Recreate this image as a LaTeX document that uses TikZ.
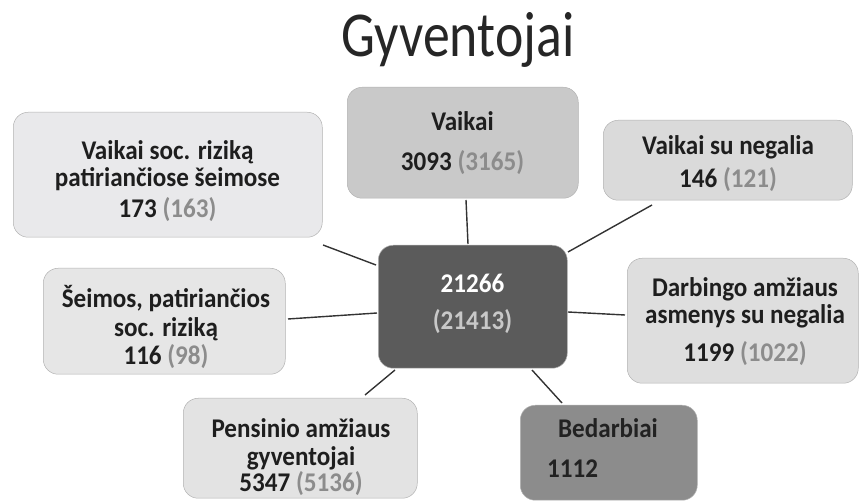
\documentclass[tikz,border=0pt]{standalone}
\usepackage{fontspec}
\setmainfont{Carlito}[FakeStretch=0.93]
\newfontfamily\mytitlefont{Carlito}[FakeStretch=0.84]
\newcommand{\mytightlines}{\lineskiplimit=-100pt\relax\lineskip=0pt\relax}
\begin{document}
\begin{tikzpicture}[x=1pt,y=-1pt,
  box/.style={anchor=north west, inner sep=0pt, rounded corners=15pt, draw=black!30, line width=0.5pt},
  ln/.style={anchor=base, inner sep=0pt, align=center, font=\bfseries\fontsize{27}{24}\selectfont\mytightlines, text=txtc},
  conn/.style={draw=linec, line width=1.4pt}]
\definecolor{txtc}{HTML}{1E1E1E}
\definecolor{grayn}{HTML}{8C8C8C}
\definecolor{linec}{HTML}{333333}
\useasboundingbox (0,0) rectangle (860,502);
% title
\node[anchor=base, inner sep=0pt, font=\mytitlefont\fontsize{64}{64}\selectfont, text=black!85] (title) at (458,57) {Gyventojai};
% boxes
\node[box, fill={rgb,255:red,233;green,233;blue,235}, minimum width=309pt, minimum height=125pt] (b1) at (13,112) {};
\node[box, fill={rgb,255:red,201;green,201;blue,201}, minimum width=231pt, minimum height=111pt] (b2) at (347,87) {};
\node[box, fill={rgb,255:red,218;green,218;blue,218}, minimum width=249pt, minimum height=80pt] (b3) at (603,120) {};
\node[box, fill={rgb,255:red,230;green,230;blue,230}, minimum width=242pt, minimum height=106pt] (b4) at (43,268) {};
\node[box, fill={rgb,255:red,91;green,91;blue,91}, minimum width=189pt, minimum height=123pt] (c) at (378,245) {};
\node[box, fill={rgb,255:red,222;green,222;blue,222}, minimum width=231pt, minimum height=125pt] (b5) at (627,258) {};
\node[box, fill={rgb,255:red,227;green,227;blue,227}, minimum width=234pt, minimum height=100pt] (b6) at (183,398) {};
\node[box, fill={rgb,255:red,140;green,140;blue,140}, minimum width=177pt, minimum height=95pt] (b7) at (520,405) {};
% texts (anchor = baseline of the last line)
\node[ln] (b1t) at (167.5,218) {Vaikai soc. riziką\\[3pt]patiriančiose šeimose\\[7pt]173 \textcolor{grayn}{(163)}};
\node[ln] (b2t) at (462.5,171) {Vaikai\\[16pt]3093 \textcolor{grayn}{(3165)}};
\node[ln] (b3t) at (728,188) {Vaikai su negalia\\[9pt]146 \textcolor{grayn}{(121)}};
\node[ln] (b4t) at (166,365) {Šeimos, patiriančios\\[5pt]soc. riziką\\[4pt]116 \textcolor{grayn}{(98)}};
\node[ln, text=white] (ct) at (472.5,330) {21266\\[13pt]\textcolor[RGB]{200,200,200}{(21413)}};
\node[ln] (b5t) at (745,362) {Darbingo amžiaus\\[3pt]asmenys su negalia\\[14pt]1199 \textcolor{grayn}{(1022)}};
\node[ln] (b6t) at (301,492) {Pensinio amžiaus\\[4pt]gyventojai\\[2pt]5347 \textcolor{grayn}{(5136)}};
\node[ln, text={rgb,255:red,34;green,34;blue,34}] (b7a) at (608,438) {Bedarbiai};
\node[ln, anchor=base west, text={rgb,255:red,34;green,34;blue,34}] (b7b) at (547,478) {1112};
% connectors
\draw[conn] ([shift={(119,113)}]b2.north west) -- ([shift={(90,-1)}]c.north west);
\draw[conn] ([shift={(49,85)}]b3.north west) -- ([shift={(190,7)}]c.north west);
\draw[conn] ([shift={(310,133)}]b1.north west) -- ([shift={(-2,20)}]c.north west);
\draw[conn] ([shift={(245,51)}]b4.north west) -- ([shift={(-1,68)}]c.north west);
\draw[conn] ([shift={(190,67)}]c.north west) -- ([shift={(-2,57)}]b5.north west);
\draw[conn] ([shift={(17,125)}]c.north west) -- ([shift={(182,-3)}]b6.north west);
\draw[conn] ([shift={(154,125)}]c.north west) -- ([shift={(42,-2)}]b7.north west);
\end{tikzpicture}
\end{document}
